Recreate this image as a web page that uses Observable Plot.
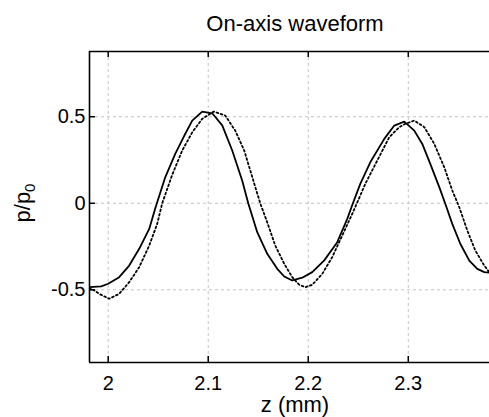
<!DOCTYPE html>
<html><head><meta charset="utf-8">
<script src="https://cdn.jsdelivr.net/npm/d3@7"></script>
<script src="https://cdn.jsdelivr.net/npm/@observablehq/plot@0.6"></script>
<style>body{margin:0;background:#fff}#chart{width:489px;height:417px}</style>
</head><body><div id="chart"></div>
<script>
const zSolid = [1.981,1.993,2.000,2.011,2.021,2.031,2.041,2.047,2.057,2.067,2.076,2.084,2.094,2.104,2.114,2.124,2.134,2.140,2.149,2.159,2.169,2.176,2.184,2.194,2.204,2.216,2.229,2.239,2.244,2.252,2.262,2.276,2.286,2.296,2.306,2.314,2.322,2.331,2.337,2.344,2.352,2.361,2.369,2.376,2.381];
const pSolid = [-0.485,-0.48,-0.465,-0.427,-0.36,-0.263,-0.148,-0.03,0.15,0.285,0.39,0.478,0.53,0.52,0.45,0.305,0.13,0.0,-0.167,-0.292,-0.379,-0.423,-0.446,-0.43,-0.398,-0.33,-0.225,-0.09,-0.01,0.112,0.237,0.372,0.449,0.472,0.42,0.343,0.228,0.093,-0.003,-0.119,-0.234,-0.331,-0.379,-0.398,-0.40];
const zDotted = [1.981,1.991,2.001,2.011,2.021,2.031,2.041,2.049,2.054,2.064,2.074,2.084,2.094,2.1056,2.117,2.127,2.136,2.142,2.152,2.159,2.167,2.176,2.184,2.191,2.197,2.204,2.214,2.224,2.234,2.244,2.252,2.257,2.269,2.281,2.291,2.297,2.306,2.316,2.326,2.336,2.344,2.351,2.359,2.367,2.376,2.381];
const pDotted = [-0.485,-0.523,-0.552,-0.523,-0.456,-0.369,-0.244,-0.119,0.0,0.165,0.305,0.41,0.488,0.53,0.507,0.42,0.305,0.19,0.0,-0.11,-0.244,-0.35,-0.427,-0.471,-0.485,-0.471,-0.408,-0.311,-0.186,-0.061,0.045,0.112,0.247,0.382,0.44,0.459,0.478,0.44,0.343,0.208,0.074,-0.023,-0.157,-0.273,-0.36,-0.398];
const xTicks = [2, 2.1, 2.2, 2.3];
const xTickLabels = ["2", "2.1", "2.2", "2.3"];
const yTicks = [-0.5, 0, 0.5];
const yTickLabels = ["-0.5", "0", "0.5"];
const xDomain = [1.9813, 2.3812];
const yDomain = [-0.92, 0.877];

const W = 489, H = 417, mL = 89, mR = 0, mT = 51, mB = 55;
const frameW = W - mL - mR, frameH = H - mT - mB;
const solid = zSolid.map((z, i) => ({z, p: pSolid[i]}));
const dotted = zDotted.map((z, i) => ({z, p: pDotted[i]}));
const xLab = new Map(xTicks.map((t, i) => [t, xTickLabels[i]]));
const yLab = new Map(yTicks.map((t, i) => [t, yTickLabels[i]]));
const font = "'Liberation Sans', Arial, Helvetica, sans-serif";

const plot = Plot.plot({
  width: W, height: H, marginLeft: mL, marginRight: mR, marginTop: mT, marginBottom: mB,
  style: {fontFamily: font, fontSize: "20px", background: "#fff", color: "#000"},
  x: {domain: xDomain},
  y: {domain: yDomain},
  marks: [
    Plot.gridX(xTicks, {stroke: "#c4c4c4", strokeOpacity: 1, strokeDasharray: "3,3"}),
    Plot.gridY(yTicks, {stroke: "#c4c4c4", strokeOpacity: 1, strokeDasharray: "3,3"}),
    Plot.line(solid, {x: "z", y: "p", stroke: "#000", strokeWidth: 1.8, clip: true}),
    Plot.line(dotted, {x: "z", y: "p", stroke: "#000", strokeWidth: 1.8, strokeDasharray: "1.8,2.6", clip: true}),
    Plot.ruleX([xDomain[0]], {stroke: "#000", strokeWidth: 1.6}),
    Plot.ruleY(yDomain, {stroke: "#000", strokeWidth: 1.6}),
    Plot.tickX(xTicks, {x: d => d, insetTop: frameH - 6, stroke: "#000", strokeWidth: 1.5}),
    Plot.tickX(xTicks, {x: d => d, insetBottom: frameH - 6, stroke: "#000", strokeWidth: 1.5}),
    Plot.tickY(yTicks, {y: d => d, insetRight: frameW - 6, stroke: "#000", strokeWidth: 1.5}),
    Plot.axisX(xTicks, {tickSize: 0, tickPadding: 13, tickFormat: d => xLab.get(d), label: null}),
    Plot.axisY(yTicks, {tickSize: 0, tickPadding: 4, tickFormat: d => yLab.get(d), label: null})
  ]
});

const svg = d3.select(plot);
svg.append("text").attr("x", 295).attr("y", 31).attr("text-anchor", "middle")
  .attr("font-size", 22).attr("font-family", font).attr("fill", "#000").text("On-axis waveform");
svg.append("text").attr("x", 295).attr("y", 412).attr("text-anchor", "middle")
  .attr("font-size", 22).attr("font-family", font).attr("fill", "#000").text("z (mm)");
const yl = svg.append("text").attr("transform", "translate(30,203) rotate(-90)")
  .attr("text-anchor", "middle").attr("font-size", 22).attr("font-family", font).attr("fill", "#000");
yl.append("tspan").text("p/p");
yl.append("tspan").attr("dy", 5).attr("font-size", 15).text("0");

document.getElementById("chart").appendChild(plot);
</script></body></html>
